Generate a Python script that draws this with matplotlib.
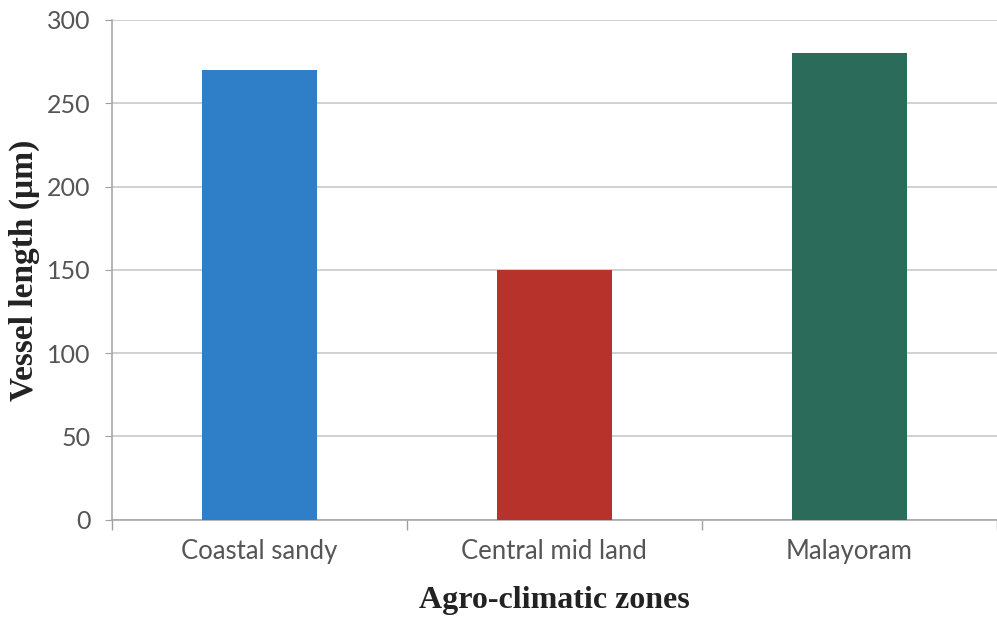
import numpy as np
import matplotlib
matplotlib.use("Agg")
import matplotlib.pyplot as plt

zones = ["Coastal sandy", "Central mid land", "Malayoram"]
vessel_length = [270, 150, 280]
bar_colors = ["#2f7ec8", "#b7322b", "#2b6b5a"]
y_ticks = [0, 50, 100, 150, 200, 250, 300]

fig = plt.figure(figsize=(9.97, 6.21), dpi=100)
ax = fig.add_axes([0.112, 0.163, 0.888, 0.805])

x = np.arange(len(zones))
ax.bar(x, vessel_length, width=0.39, color=bar_colors, zorder=3)

ax.set_xlim(-0.5, len(zones) - 0.5)
ax.set_ylim(0, 300)
ax.set_yticks(y_ticks)
ax.yaxis.grid(True, color="#c8c8c8", linewidth=1.2, zorder=0)

# category labels centred, tick marks on the boundaries between them
ax.set_xticks(x)
ax.set_xticklabels(zones, fontfamily="Lato", fontsize=18.5, color="#555555")
ax.tick_params(axis="x", which="major", length=0, pad=14)
ax.set_xticks(np.arange(-0.5, len(zones)), minor=True)
ax.tick_params(axis="x", which="minor", length=7, color="#a0a0a0", width=1)
ax.tick_params(axis="y", length=5, color="#a0a0a0", labelsize=18,
               labelcolor="#555555", pad=10)
for lbl in ax.get_yticklabels():
    lbl.set_fontfamily("Lato")

for side in ["top", "right"]:
    ax.spines[side].set_visible(False)
for side in ["left", "bottom"]:
    ax.spines[side].set_color("#a8a8a8")
    ax.spines[side].set_linewidth(1.2)

ax.set_ylabel("Vessel length (µm)", fontfamily="Liberation Serif",
              fontweight="bold", fontsize=24, color="#222222", labelpad=5)
ax.set_xlabel("Agro-climatic zones", fontfamily="Liberation Serif",
              fontweight="bold", fontsize=23, color="#222222", labelpad=16)

fig.savefig("out.png", dpi=100)
